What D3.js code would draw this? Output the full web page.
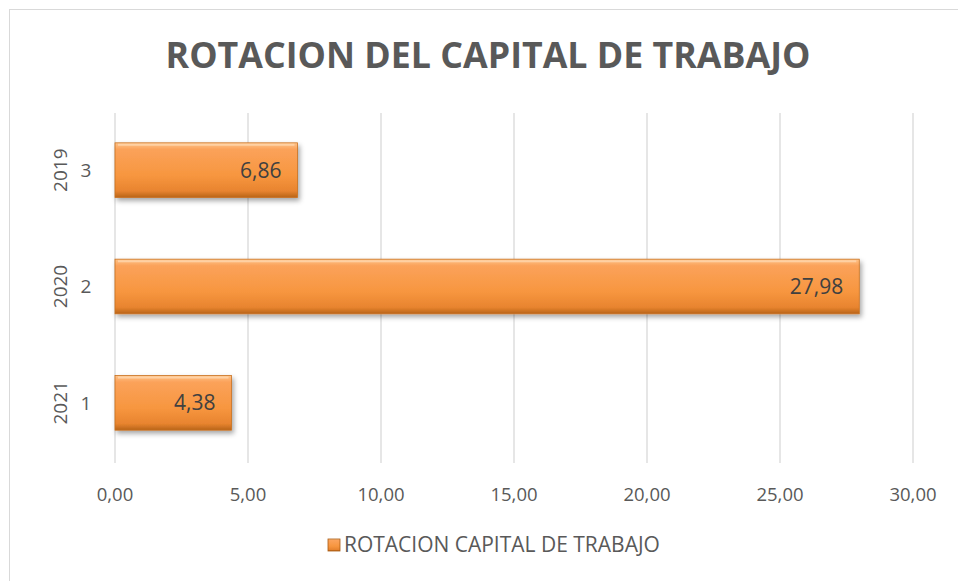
<!DOCTYPE html>
<html>
<head>
<meta charset="utf-8">
<script src="https://cdn.jsdelivr.net/npm/d3@7"></script>
<style>
  body { margin: 0; background: #fff; }
  text { font-family: "Open Sans", "Noto Sans", sans-serif; fill: #595959; }
</style>
</head>
<body>
<script>
const width = 958;
const height = 581;

// data (top to bottom)
const categories = ["3", "2", "1"];
const years = ["2019", "2020", "2021"];
const values = [6.86, 27.98, 4.38];
const xTicks = [0, 5, 10, 15, 20, 25, 30];
const seriesName = "ROTACION CAPITAL DE TRABAJO";
const title = "ROTACION DEL CAPITAL DE TRABAJO";

const plot = { left: 115, right: 913, top: 113, bottom: 463 };

let svg = d3.select("body").append("svg")
    .attr("width", width)
    .attr("height", height);

// chart frame
svg.append("rect")
    .attr("x", 9.5).attr("y", 9.5)
    .attr("width", width - 9).attr("height", height - 9)
    .attr("fill", "white")
    .attr("stroke", "#d9d9d9")
    .attr("stroke-width", 1);

let defs = svg.append("defs");
let grad = defs.append("linearGradient")
    .attr("id", "barGrad")
    .attr("x1", 0).attr("y1", 0).attr("x2", 0).attr("y2", 1);
grad.append("stop").attr("offset", "0%").attr("stop-color", "#ffc48a");
grad.append("stop").attr("offset", "12%").attr("stop-color", "#fba25a");
grad.append("stop").attr("offset", "60%").attr("stop-color", "#f7963f");
grad.append("stop").attr("offset", "88%").attr("stop-color", "#e8842f");
grad.append("stop").attr("offset", "100%").attr("stop-color", "#b86418");

let shadow = defs.append("filter").attr("id", "shadow")
    .attr("x", "-5%").attr("y", "-20%").attr("width", "115%").attr("height", "150%");
shadow.append("feDropShadow")
    .attr("dx", 2).attr("dy", 3).attr("stdDeviation", 2.5)
    .attr("flood-color", "#000").attr("flood-opacity", 0.35);

let xScale = d3.scaleLinear()
    .domain([0, 30])
    .range([plot.left, plot.right]);

let yScale = d3.scaleBand()
    .domain(categories)
    .range([plot.top - 1, plot.bottom - 2])
    .paddingInner(0.53)
    .paddingOuter(0.265);

// gridlines
svg.selectAll(".grid")
    .data(xTicks)
    .enter()
    .append("line")
    .attr("class", "grid")
    .attr("x1", d => xScale(d)).attr("x2", d => xScale(d))
    .attr("y1", plot.top).attr("y2", plot.bottom)
    .attr("stroke", "#d9d9d9")
    .attr("stroke-width", 1.3);

// x tick labels
svg.selectAll(".xlab")
    .data(xTicks)
    .enter()
    .append("text")
    .attr("class", "xlab")
    .attr("x", d => xScale(d))
    .attr("y", 501)
    .attr("text-anchor", "middle")
    .style("font-size", "18.5px")
    .text(d => d.toFixed(2).replace(".", ","));

// bars
let bars = svg.selectAll(".bar")
    .data(values)
    .enter()
    .append("g")
    .attr("class", "bar");

bars.append("rect")
    .attr("x", xScale(0))
    .attr("y", (d, i) => yScale(categories[i]))
    .attr("width", d => xScale(d) - xScale(0))
    .attr("height", yScale.bandwidth())
    .attr("fill", "url(#barGrad)")
    .attr("stroke", "#c9711f")
    .attr("stroke-width", 0.8)
    .attr("filter", "url(#shadow)");

// bevel highlight on top edge
bars.append("line")
    .attr("x1", xScale(0) + 3)
    .attr("x2", d => xScale(d) - 3)
    .attr("y1", (d, i) => yScale(categories[i]) + 2)
    .attr("y2", (d, i) => yScale(categories[i]) + 2)
    .attr("stroke", "#ffd7ae")
    .attr("stroke-width", 2)
    .attr("opacity", 0.8);

// value labels
bars.append("text")
    .attr("x", d => xScale(d) - 16)
    .attr("y", (d, i) => yScale(categories[i]) + yScale.bandwidth() / 2)
    .attr("dy", "0.36em")
    .attr("text-anchor", "end")
    .style("font-size", "21px")
    .style("fill", "#404040")
    .text(d => d.toFixed(2).replace(".", ","));

// category labels
svg.selectAll(".cat")
    .data(categories)
    .enter()
    .append("text")
    .attr("class", "cat")
    .attr("x", 86)
    .attr("y", d => yScale(d) + yScale.bandwidth() / 2)
    .attr("dy", "0.36em")
    .attr("text-anchor", "middle")
    .style("font-size", "19px")
    .text(d => d);

svg.selectAll(".year")
    .data(years)
    .enter()
    .append("text")
    .attr("class", "year")
    .attr("transform", (d, i) => `translate(67, ${yScale(categories[i]) + yScale.bandwidth() / 2}) rotate(-90)`)
    .attr("text-anchor", "middle")
    .style("font-size", "19px")
    .text(d => d);

// title
let t = svg.append("text")
    .attr("x", 488)
    .attr("y", 68)
    .attr("text-anchor", "middle")
    .style("font-size", "36px")
    .style("font-weight", "bold")
    .text(title);
let tw = t.node().getComputedTextLength();
if (tw > 645) t.style("font-size", (36 * 645 / tw) + "px");

// legend
svg.append("rect")
    .attr("x", 328).attr("y", 539)
    .attr("width", 12).attr("height", 12)
    .attr("fill", "url(#barGrad)")
    .attr("stroke", "#a85a12")
    .attr("stroke-width", 0.8);

let lg = svg.append("text")
    .attr("x", 344)
    .attr("y", 552)
    .style("font-size", "21px")
    .text(seriesName);
let lw = lg.node().getComputedTextLength();
if (lw > 316) lg.style("font-size", (21 * 316 / lw) + "px");
</script>
</body>
</html>
